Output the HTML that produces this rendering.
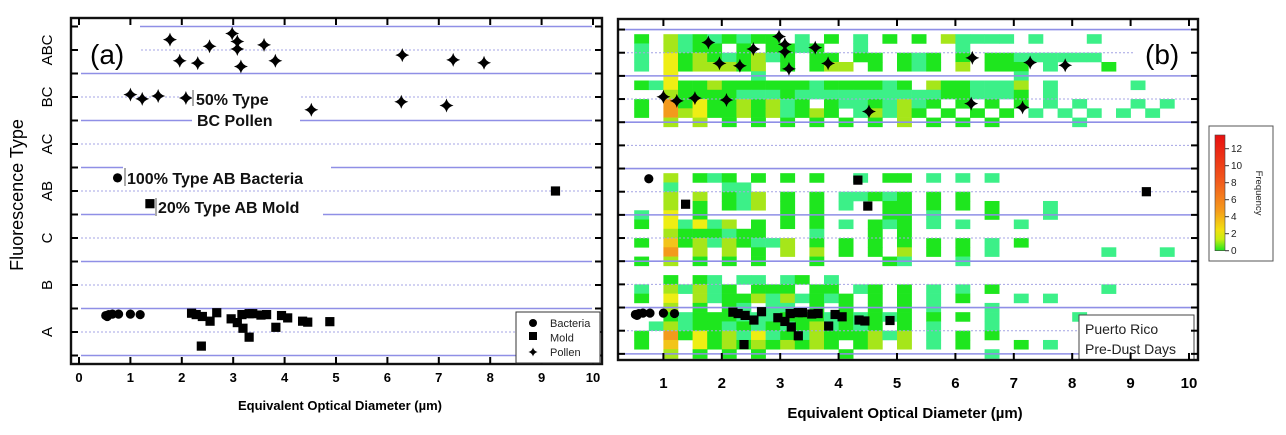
<!DOCTYPE html>
<html><head><meta charset="utf-8"><style>
html,body{margin:0;padding:0;background:#fff;}
svg{display:block;font-family:"Liberation Sans",Arial,sans-serif;}
</style></head><body>
<svg id="fig" width="1286" height="435" viewBox="0 0 1286 435" xmlns="http://www.w3.org/2000/svg">
<defs>
<clipPath id="clipB"><rect x="619" y="20" width="578" height="339"/></clipPath>
<linearGradient id="cbar" x1="0" y1="1" x2="0" y2="0">
<stop offset="0" stop-color="#1ee61e"/><stop offset="0.1" stop-color="#c8ee10"/><stop offset="0.18" stop-color="#f2e010"/><stop offset="0.35" stop-color="#f59a1c"/><stop offset="0.6" stop-color="#f25a1c"/><stop offset="1" stop-color="#e81010"/>
</linearGradient>
</defs>
<g id="panelA"></g>
<g id="panelB"></g>
</svg>
<script>
// ---- data ----
const categories = ['A','B','C','AB','AC','BC','ABC'];
const xTicksA = [0,1,2,3,4,5,6,7,8,9,10];
const xTicksB = [1,2,3,4,5,6,7,8,9,10];
const pollenX = [1.77,1.96,2.31,2.54,2.98,3.08,3.08,3.15,3.60,3.82,6.29,7.28,7.88,1.00,1.23,1.54,2.08,4.52,6.27,7.15];
const pollenY = [6.22,5.77,5.72,6.08,6.35,6.18,6.02,5.65,6.11,5.77,5.89,5.79,5.73,5.05,4.96,5.02,4.98,4.73,4.90,4.82];
const bacteriaX = [0.52,0.55,0.58,0.65,0.77,1.00,1.19,0.75];
const bacteriaY = [0.35,0.33,0.37,0.38,0.38,0.38,0.37,3.28];
const moldX = [1.38,9.27,2.19,2.28,2.40,2.55,2.68,2.96,3.08,3.17,3.19,3.31,3.31,3.38,3.54,3.65,3.83,3.94,4.06,4.35,4.45,4.88,2.38,4.33,4.50];
const moldY = [2.73,3.00,0.40,0.37,0.33,0.23,0.41,0.28,0.20,0.37,0.08,0.39,-0.11,0.39,0.36,0.37,0.10,0.35,0.30,0.23,0.21,0.22,-0.30,3.25,2.69];
const heatXStart = 0.5, heatXBin = 0.25, heatYTop = 6.6, heatYBin = 0.2;
// rows from top (6.4-6.6) down to (-0.6 - -0.4); each char = frequency level of a 0.25 um column
const heatRows = [
"......................................",
"2.31212122.1.2.1.2.2.31111.1...1.....",
"1.3122.2.2212..1......1...............",
"1.423212312.22.22.212.2.22111111......",
"1.4233323.2.233.2.212.3.222.1...2.....",
"..4.....1.................1...........",
"2142232222221222212.3221113.1.....1...",
"..3222211121111111111221112.1.........",
"2.6242232312.21121312.2.2.2.1.1...1.1.",
"2.634223231232.13132.2.2.2.1.1.1.1.1.",
"..3.3.2.2.2.2.2.2.3.2.2.2.....1.......",
"......................................",
"......................................",
"......................................",
"......................................",
"......................................",
"..3.212.2.2.2..1.22.1.1.1.............",
"..1...11..............................",
"..3.3.213.2.2.11212.2.2...............",
"..3.2.213.2.2.1..22.2.2.2...1.........",
"1.4.2.....2.2....22.1...2...1.........",
"2.41413.2.2.2.1.212.1.1...1...........",
"..3222122...1...2.2...................",
"2.523132113.2.2.2.2.2.2.1.2...........",
"..6.3.3.2.3.3.2.2.3.2.2.1.......1...1.",
"2.3.2.2.2...2....21...1...............",
"......................................",
"..2.21.11.12.1........................",
"1.31312.222.22.12.2.1.1.2.......1.....",
"2.4.31223131212.2.2.1.2...1.1.........",
"..3.2.21.11.2.2.2.2.1...1.............",
"..21222111222121212.2.2.1.....1.......",
".1312212121231212.2.1...1.............",
"2.62423141213222313.1.2.2.............",
"2.5.4232323232.23.3.1.2...2.1.........",
"..3.2.2.2.....2.........1............."
];
const cbarTicks = [0,2,4,6,8,10,12];

// ---- helpers ----
const NS = 'http://www.w3.org/2000/svg';
function mk(parent, tag, attrs, text){
  const e = document.createElementNS(NS, tag);
  for (const k in attrs) e.setAttribute(k, attrs[k]);
  if (text !== undefined) e.textContent = text;
  parent.appendChild(e);
  return e;
}
const levelColors = ['none','#3cf088','#1ee61e','#a6e61a','#eeee14','#f2c41a','#f39a1c'];
const starPath = 'M0,-7 Q1.4,-1.4 7,0 Q1.4,1.4 0,7 Q-1.4,1.4 -7,0 Q-1.4,-1.4 0,-7Z';

// panel geometry
const PA = {fx0:71, fx1:602, fy0:18, fy1:364, x:v=>79+51.4*v, y:v=>332-47*v};
const PB = {fx0:618, fx1:1198, fy0:19, fy1:360, x:v=>605+58.4*v, y:v=>330.7-46.33*v};

function grid(g, P, x0, x1, dotEnd){
  for (let i=0;i<categories.length;i++){
    const yc = P.y(i);
    const d = mk(g,'line',{x1:x0,x2:(i===6&&dotEnd)?dotEnd:x1,y1:yc,y2:yc,stroke:'#a4a4e4','stroke-width':1,'stroke-dasharray':'2,2'});
    
    
  }
  for (let i=0;i<=categories.length;i++){
    const yb = P.y(i-0.5);
    const s = mk(g,'line',{x1:x0,x2:x1,y1:yb,y2:yb,stroke:'#8f8fe6','stroke-width':1.6});
    
    
  }
}
function ticks(g, P, xt){
  for (let i=-0.5;i<=6.51;i+=0.5){
    const yy = P.y(i);
    mk(g,'line',{x1:P.fx0,x2:P.fx0+7,y1:yy,y2:yy,stroke:'#000','stroke-width':2});
    mk(g,'line',{x1:P.fx1-7,x2:P.fx1,y1:yy,y2:yy,stroke:'#000','stroke-width':2});
  }
  xt.forEach(v=>{
    const xx = P.x(v);
    mk(g,'line',{x1:xx,x2:xx,y1:P.fy0,y2:P.fy0+7,stroke:'#000','stroke-width':2});
    mk(g,'line',{x1:xx,x2:xx,y1:P.fy1-7,y2:P.fy1,stroke:'#000','stroke-width':2});
  });
}
function markers(g, P){
  pollenX.forEach((v,i)=>{
    const p = mk(g,'path',{d:starPath,transform:`translate(${P.x(v)},${P.y(pollenY[i])})`,fill:'#000'});
    
    
  });
  bacteriaX.forEach((v,i)=>{
    const c = mk(g,'circle',{cx:P.x(v),cy:P.y(bacteriaY[i]),r:4.6,fill:'#000'});
    
    
  });
  moldX.forEach((v,i)=>{
    const r = mk(g,'rect',{x:P.x(v)-4.6,y:P.y(moldY[i])-4.6,width:9.2,height:9.2,fill:'#000'});
    
    
  });
}
function frame(g,P,name){
  const f = mk(g,'rect',{x:P.fx0,y:P.fy0,width:P.fx1-P.fx0,height:P.fy1-P.fy0,fill:'none',stroke:'#111','stroke-width':2.4});
  
  
}

// ---- Panel A ----
const gA = document.getElementById('panelA');
grid(gA, PA, 81, 592);
markers(gA, PA);
// occluding label boxes
mk(gA,'rect',{x:72,y:20,width:68,height:40,fill:'#fff'});
mk(gA,'rect',{x:192,y:86,width:108,height:44,fill:'#fff'});
mk(gA,'rect',{x:123,y:165,width:208,height:24,fill:'#fff'});
mk(gA,'rect',{x:155,y:196,width:168,height:24,fill:'#fff'});
let t;
t = mk(gA,'text',{x:90,y:64,'font-size':28,fill:'#000'},'(a)');
 
mk(gA,'line',{x1:193,x2:193,y1:90,y2:106,stroke:'#555','stroke-width':1});
t = mk(gA,'text',{x:196,y:105,'font-size':16,'font-weight':'bold',fill:'#111'},'50% Type');
 
mk(gA,'text',{x:197,y:126,'font-size':16,'font-weight':'bold',fill:'#111'},'BC Pollen');
mk(gA,'line',{x1:125,x2:125,y1:168,y2:186,stroke:'#555','stroke-width':1});
t = mk(gA,'text',{x:127,y:184,'font-size':16,'font-weight':'bold',fill:'#111'},'100% Type AB Bacteria');
 
mk(gA,'line',{x1:156,x2:156,y1:198,y2:216,stroke:'#555','stroke-width':1});
t = mk(gA,'text',{x:158,y:213,'font-size':16,'font-weight':'bold',fill:'#111'},'20% Type AB Mold');
 
frame(gA, PA, 'panel-a-frame');
ticks(gA, PA, xTicksA);
xTicksA.forEach(v=>{
  const l = mk(gA,'text',{x:PA.x(v),y:382,'font-size':13,'font-weight':'bold','text-anchor':'middle'},String(v));
  
  
});
categories.forEach((c,i)=>{
  const yy = PA.y(i);
  const l = mk(gA,'text',{x:0,y:0,'font-size':15,'text-anchor':'middle',transform:`translate(52,${yy}) rotate(-90)`},c);
  
  
});
t = mk(gA,'text',{x:0,y:0,'font-size':18,'text-anchor':'middle',transform:'translate(23,195) rotate(-90)'},'Fluorescence Type');
 
t = mk(gA,'text',{x:340,y:410,'font-size':13,'font-weight':'bold','text-anchor':'middle'},'Equivalent Optical Diameter (µm)');
 
// legend
const lg = mk(gA,'g',{});
 
mk(lg,'rect',{x:516,y:312,width:84,height:51,fill:'#fff',stroke:'#333','stroke-width':1});
mk(lg,'circle',{cx:533,cy:323,r:4,fill:'#000'});
mk(lg,'rect',{x:529,y:332,width:8,height:8,fill:'#000'});
mk(lg,'path',{d:starPath,transform:'translate(533,352) scale(0.65)',fill:'#000'});
['Bacteria','Mold','Pollen'].forEach((s,i)=>{
  const e = mk(lg,'text',{x:550,y:327+i*14.5,'font-size':11,fill:'#222'},s);
  
  
});

// ---- Panel B ----
const gB = document.getElementById('panelB');
const cells = mk(gB,'g',{'clip-path':'url(#clipB)'});
 
heatRows.forEach((row,ri)=>{
  const yLow = heatYTop - heatYBin*(ri+1);
  for (let c=0;c<row.length;c++){
    const v = row[c]==='.'?0:parseInt(row[c]);
    if (!v) continue;
    const xa = PB.x(heatXStart+heatXBin*c), xb = PB.x(heatXStart+heatXBin*(c+1));
    const ya = PB.y(yLow+heatYBin), yb = PB.y(yLow);
    const r = mk(cells,'rect',{x:xa,y:ya,width:xb-xa+0.3,height:yb-ya+0.3,fill:levelColors[v]});
    
    
  }
});
grid(gB, PB, 619, 1197, 1134);
markers(gB, PB);
t = mk(gB,'text',{x:1145,y:64,'font-size':28,fill:'#000'},'(b)');
 
const pr = mk(gB,'g',{});
 
mk(pr,'rect',{x:1079,y:315,width:115,height:45,fill:'#fff',stroke:'#444','stroke-width':1});
mk(pr,'text',{x:1085,y:334,'font-size':14,fill:'#222'},'Puerto Rico');
mk(pr,'text',{x:1085,y:354,'font-size':14,fill:'#222'},'Pre-Dust Days');
frame(gB, PB, 'panel-b-frame');
ticks(gB, PB, xTicksB);
xTicksB.forEach(v=>{
  const l = mk(gB,'text',{x:PB.x(v),y:388,'font-size':15,'font-weight':'bold','text-anchor':'middle'},String(v));
  
  
});
t = mk(gB,'text',{x:905,y:418,'font-size':15,'font-weight':'bold','text-anchor':'middle'},'Equivalent Optical Diameter (µm)');
 
// colorbar
const cb = mk(gB,'g',{});
 
mk(cb,'rect',{x:1209,y:126,width:64,height:135,fill:'#fff',stroke:'#555','stroke-width':1});
const cbY = v=>250.7-8.5*v;
mk(cb,'rect',{x:1215,y:135,width:10,height:cbY(0)-135,fill:'url(#cbar)',stroke:'#444','stroke-width':0.6});
cbarTicks.forEach(v=>{
  mk(cb,'line',{x1:1225,x2:1229,y1:cbY(v),y2:cbY(v),stroke:'#333','stroke-width':1});
  const e = mk(cb,'text',{x:1231,y:cbY(v)+3.5,'font-size':10,fill:'#222'},String(v));
  
  
});
t = mk(cb,'text',{x:0,y:0,'font-size':9.5,'text-anchor':'middle',fill:'#222',transform:'translate(1256,193) rotate(90)'},'Frequency');
 
</script>
</body></html>
